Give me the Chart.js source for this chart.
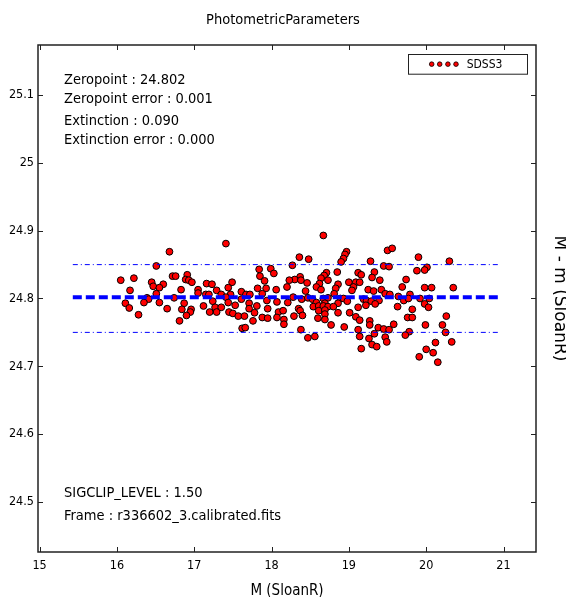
<!DOCTYPE html>
<html>
<head>
<meta charset="utf-8">
<script src="https://cdn.jsdelivr.net/npm/chart.js@4/dist/chart.umd.min.js"></script>
<style>
    html, body { margin: 0; padding: 0; background: #fff; }
</style>
</head>
<body>
<canvas id="photoChart" width="566" height="597"></canvas>
<script>
// magnitudes M (SloanR) of the calibration stars
const magX = [
    16.51, 16.05, 16.22, 16.45, 16.47, 16.60, 16.55, 16.17, 16.51, 16.39, 16.41, 16.11, 16.35, 16.55, 16.16, 16.28,
    16.68, 16.72, 16.76, 16.91, 16.89, 16.93, 16.97, 17.16, 17.23, 16.83, 17.05, 17.29, 17.15, 17.19, 17.35,
    16.74, 17.05, 17.24, 16.65, 16.87, 16.84, 16.96, 16.95, 17.12, 17.27, 17.29, 17.35, 17.20, 16.90, 16.81,
    17.41, 17.84, 17.99, 18.03, 17.85, 17.49, 17.91, 18.20, 17.44, 17.82, 17.93, 18.06, 17.61, 17.47, 17.67,
    17.72, 17.88, 17.41, 17.61, 17.94, 18.07, 17.44, 17.53, 17.71, 17.81, 17.95, 18.21, 17.71, 17.45, 17.50,
    17.57, 17.65, 17.78, 18.09, 18.15, 18.07, 17.88, 17.95, 18.16, 17.76, 18.16, 17.62, 17.66,
    18.67, 18.36, 18.48, 18.97, 18.95, 18.93, 18.90, 18.27, 18.85, 18.71, 18.68, 18.37, 18.64, 18.30, 18.23,
    18.38, 18.46, 18.86, 18.73, 18.62, 18.58, 18.83, 18.64, 18.44, 18.81, 18.39, 18.47, 18.28, 18.53, 18.67,
    18.73, 18.89, 18.93, 18.58, 18.69, 18.86, 18.98, 18.54, 18.61, 18.67, 18.73, 18.80, 18.35, 18.61, 18.69,
    18.86, 18.37, 18.69, 18.40, 18.29, 18.60, 18.69, 18.77, 18.94, 18.38, 18.47, 18.56,
    19.50, 19.56, 19.28, 19.45, 19.52, 19.12, 19.16, 19.33, 19.30, 19.40, 19.00, 19.09, 19.14, 19.06, 19.04,
    19.25, 19.42, 19.32, 19.47, 19.69, 19.53, 19.64, 19.19, 19.23, 19.29, 19.39, 19.71, 19.22, 19.34, 19.12,
    19.63, 19.01, 19.09, 19.14, 19.27, 19.27, 19.12, 19.38, 19.45, 19.52, 19.58, 19.33, 19.14, 19.26, 19.47,
    19.49, 19.30, 19.36, 19.16,
    19.90, 20.30, 20.01, 19.98, 19.88, 19.74, 19.98, 20.07, 20.35, 19.79, 19.77, 19.92, 20.04, 19.98, 20.03,
    19.82, 19.76, 19.82, 20.26, 19.99, 20.21, 20.25, 19.78, 19.73, 20.33, 20.12, 20.00, 20.09, 19.91, 20.15
];

// M - m for the same stars
const deltaM = [
    24.848, 24.827, 24.830, 24.824, 24.818, 24.821, 24.816, 24.812, 24.807, 24.801, 24.799, 24.793, 24.794, 24.794, 24.786, 24.776,
    24.869, 24.833, 24.833, 24.835, 24.828, 24.827, 24.824, 24.822, 24.821, 24.813, 24.813, 24.812, 24.806, 24.806, 24.806,
    24.801, 24.808, 24.796, 24.785, 24.793, 24.784, 24.784, 24.780, 24.789, 24.787, 24.780, 24.787, 24.780, 24.775, 24.767,
    24.881, 24.843, 24.844, 24.837, 24.833, 24.824, 24.826, 24.817, 24.816, 24.815, 24.815, 24.813, 24.810, 24.806, 24.806,
    24.806, 24.807, 24.802, 24.799, 24.797, 24.795, 24.794, 24.790, 24.793, 24.789, 24.785, 24.794, 24.785, 24.780, 24.778,
    24.774, 24.774, 24.779, 24.780, 24.782, 24.772, 24.772, 24.771, 24.769, 24.767, 24.762, 24.756, 24.757,
    24.893, 24.861, 24.858, 24.869, 24.865, 24.859, 24.854, 24.849, 24.839, 24.838, 24.834, 24.832, 24.830, 24.828, 24.827,
    24.827, 24.823, 24.821, 24.827, 24.822, 24.817, 24.815, 24.813, 24.811, 24.807, 24.799, 24.801, 24.802, 24.799, 24.800,
    24.801, 24.800, 24.800, 24.794, 24.793, 24.793, 24.796, 24.788, 24.789, 24.789, 24.788, 24.788, 24.785, 24.782, 24.783,
    24.779, 24.782, 24.777, 24.775, 24.774, 24.771, 24.769, 24.761, 24.758, 24.754, 24.742, 24.744,
    24.871, 24.874, 24.855, 24.848, 24.847, 24.838, 24.835, 24.839, 24.831, 24.827, 24.824, 24.824, 24.824, 24.817, 24.812,
    24.813, 24.813, 24.811, 24.807, 24.817, 24.806, 24.803, 24.799, 24.797, 24.796, 24.797, 24.797, 24.790, 24.792, 24.787,
    24.788, 24.779, 24.773, 24.768, 24.767, 24.761, 24.754, 24.757, 24.755, 24.754, 24.762, 24.748, 24.744, 24.741, 24.743,
    24.736, 24.732, 24.729, 24.726,
    24.861, 24.855, 24.846, 24.842, 24.841, 24.828, 24.816, 24.816, 24.816, 24.806, 24.800, 24.800, 24.800, 24.792, 24.787,
    24.784, 24.772, 24.772, 24.774, 24.761, 24.761, 24.750, 24.751, 24.746, 24.736, 24.735, 24.725, 24.720, 24.714, 24.706
];

const fitX = [15.43, 20.96];
const zeropoint = 24.802;
const clipHigh = 24.85;
const clipLow = 24.75;

const xTicks = [15, 16, 17, 18, 19, 20, 21];
const yTicks = [24.5, 24.6, 24.7, 24.8, 24.9, 25, 25.1];

const infoTop = ["Zeropoint : 24.802", "Zeropoint error : 0.001", "Extinction : 0.090", "Extinction error : 0.000"];
const infoBottom = ["SIGCLIP_LEVEL : 1.50", "Frame : r336602_3.calibrated.fits"];

const COND = "'DejaVu Sans Condensed', 'DejaVu Sans', sans-serif";

Chart.defaults.font.family = COND;
Chart.defaults.color = "#000";

const fmt = (v) => String(Math.round(v * 100) / 100);

// frame with inward ticks, info text and the legend box
const decorations = {
    id: "decorations",
    afterDraw(chart) {
        const ctx = chart.ctx;
        const a = chart.chartArea;
        const xs = chart.scales.x;
        const ys = chart.scales.y;

        ctx.save();
        ctx.strokeStyle = "#222";
        ctx.lineWidth = 1.5;
        ctx.strokeRect(a.left, a.top, a.right - a.left, a.bottom - a.top);

        ctx.lineWidth = 1;
        ctx.beginPath();
        xs.ticks.forEach((t) => {
            const px = Math.round(xs.getPixelForValue(t.value)) + 0.5;
            ctx.moveTo(px, a.bottom); ctx.lineTo(px, a.bottom - 5);
            ctx.moveTo(px, a.top); ctx.lineTo(px, a.top + 5);
        });
        ys.ticks.forEach((t) => {
            const py = Math.round(ys.getPixelForValue(t.value)) + 0.5;
            ctx.moveTo(a.left, py); ctx.lineTo(a.left + 5, py);
            ctx.moveTo(a.right, py); ctx.lineTo(a.right - 5, py);
        });
        ctx.stroke();

        // info text
        ctx.fillStyle = "#000";
        ctx.font = "14.5px " + COND;
        ctx.textBaseline = "middle";
        ctx.textAlign = "left";
        const topOffsets = [35, 54.3, 76.7, 95.7];
        infoTop.forEach((s, i) => ctx.fillText(s, a.left + 26, a.top + topOffsets[i]));
        const botOffsets = [-58.7, -36];
        infoBottom.forEach((s, i) => ctx.fillText(s, a.left + 26, a.bottom + botOffsets[i]));

        // legend
        const bw = 119, bh = 19.7;
        const bx = a.right - 9.3 - bw;
        const by = a.top + 9.3;
        ctx.fillStyle = "#fff";
        ctx.fillRect(bx, by, bw, bh);
        ctx.strokeStyle = "#222";
        ctx.lineWidth = 1;
        ctx.strokeRect(Math.round(bx) + 0.5, Math.round(by) + 0.5, bw, bh);
        const ds = chart.data.datasets[3];
        [24, 32, 40.2, 48.3].forEach((dx) => {
            ctx.beginPath();
            ctx.arc(bx + dx, by + bh / 2, 2.3, 0, Math.PI * 2);
            ctx.fillStyle = ds.backgroundColor;
            ctx.fill();
            ctx.strokeStyle = "#000";
            ctx.lineWidth = 0.8;
            ctx.stroke();
        });
        ctx.fillStyle = "#000";
        ctx.font = "12px " + COND;
        ctx.fillText(ds.label, bx + 59, by + bh / 2 + 0.5);
        ctx.restore();
    }
};

const ctx = document.getElementById("photoChart");

new Chart(ctx, {
    type: "scatter",
    data: {
        datasets: [
            {
                label: "zeropoint",
                data: fitX.map((x) => ({ x: x, y: zeropoint })),
                showLine: true,
                borderColor: "#0000ff",
                borderWidth: 4,
                borderDash: [9, 4],
                pointRadius: 0,
                order: 0
            },
            {
                label: "upper",
                data: fitX.map((x) => ({ x: x, y: clipHigh })),
                showLine: true,
                borderColor: "#0000ff",
                borderWidth: 1,
                borderDash: [5, 3, 1, 3],
                pointRadius: 0,
                order: 0
            },
            {
                label: "lower",
                data: fitX.map((x) => ({ x: x, y: clipLow })),
                showLine: true,
                borderColor: "#0000ff",
                borderWidth: 1,
                borderDash: [5, 3, 1, 3],
                pointRadius: 0,
                order: 0
            },
            {
                label: "SDSS3",
                data: magX.map((x, i) => ({ x: x, y: deltaM[i] })),
                backgroundColor: "#ff0000",
                borderColor: "#000",
                borderWidth: 1,
                pointRadius: 3.4,
                order: 1
            }
        ]
    },
    options: {
        responsive: false,
        animation: false,
        layout: { padding: 0 },
        plugins: {
            legend: { display: false },
            tooltip: { enabled: false },
            title: {
                display: true,
                text: "PhotometricParameters",
                color: "#000",
                font: { family: COND, size: 14.5, weight: "normal" },
                padding: { top: 11.5, bottom: 16.1 }
            }
        },
        scales: {
            x: {
                type: "linear",
                position: "bottom",
                min: 14.98,
                max: 21.42,
                afterBuildTicks: (s) => { s.ticks = xTicks.map((v) => ({ value: v })); },
                afterFit: (s) => { s.height = 45; },
                grid: { display: false, drawTicks: false },
                border: { display: false },
                ticks: { font: { size: 12.5 }, padding: 6, callback: fmt, maxRotation: 0 },
                title: {
                    display: true,
                    text: "M (SloanR)",
                    font: { size: 15 },
                    padding: { top: 0, bottom: -3.5 }
                }
            },
            y: {
                type: "linear",
                position: "left",
                min: 24.426,
                max: 25.174,
                afterBuildTicks: (s) => { s.ticks = yTicks.map((v) => ({ value: v })); },
                afterFit: (s) => { s.width = 38; },
                grid: { display: false, drawTicks: false },
                border: { display: false },
                ticks: { font: { size: 12.5 }, padding: 4, callback: fmt }
            },
            y2: {
                type: "linear",
                position: "right",
                min: 24.426,
                max: 25.174,
                afterFit: (s) => { s.width = 30; },
                grid: { display: false, drawTicks: false },
                border: { display: false },
                ticks: { display: false },
                title: {
                    display: true,
                    text: "M - m (SloanR)",
                    font: { family: "'DejaVu Sans', sans-serif", size: 17 },
                    padding: { top: -4, bottom: 0 }
                }
            }
        }
    },
    plugins: [decorations]
});
</script>
</body>
</html>
